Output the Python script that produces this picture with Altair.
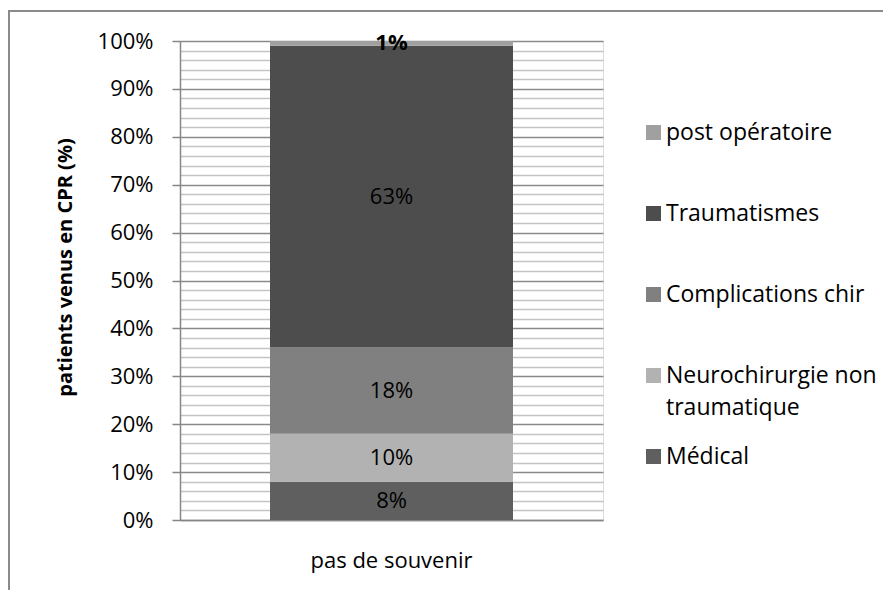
import altair as alt
import pandas as pd

# ---- data ----
categories = ["Médical", "Neurochirurgie non traumatique", "Complications chir",
              "Traumatismes", "post opératoire"]
values = [8, 10, 18, 63, 1]
stack_order = [0, 1, 2, 3, 4]
group_label = "pas de souvenir"
legend_order = ["post opératoire", "Traumatismes", "Complications chir",
                "Neurochirurgie non traumatique", "Médical"]
legend_colors = ["#a0a0a0", "#4d4d4d", "#808080", "#b2b2b2", "#5f5f5f"]
y_ticks = list(range(0, 101, 2))
y_title = "patients venus en CPR (%)"

df = pd.DataFrame({
    "groupe": [group_label] * len(categories),
    "cause": categories,
    "pct": values,
    "ordre": stack_order,
})
df["label"] = df["pct"].astype(str) + "%"

FONT = "Open Sans"
MAJOR = "datum.value % 10 === 0"

y_axis = alt.Axis(
    values=y_ticks,
    title=y_title,
    titleFont=FONT, titleFontSize=20, titleFontWeight="bold", titleColor="#000000",
    titleAngle=270, titleAlign="center", titleBaseline="bottom",
    titleX=-105, titleY=226,
    labelExpr=f"{MAJOR} ? datum.value + '%' : ''",
    labelFont=FONT, labelFontSize=22, labelColor="#000000", labelPadding=19,
    labelOverlap=False,
    tickSize=8, tickColor="#868686", tickWidth=1.5,
    tickOpacity={"condition": {"test": MAJOR, "value": 1}, "value": 0},
    grid=True,
    gridColor={"condition": {"test": MAJOR, "value": "#8a8a8a"}, "value": "#c4c4c4"},
    gridWidth=1.5,
    domainColor="#868686", domainWidth=1.5,
)

x_enc = alt.X(
    "groupe:N", title=None,
    scale=alt.Scale(paddingInner=0, paddingOuter=0),
    axis=alt.Axis(labelAngle=0, ticks=False, grid=False, domainColor="#868686",
                  domainWidth=1.5, labelFont=FONT, labelFontSize=22,
                  labelColor="#000000", labelPadding=30),
)

y_scale = alt.Scale(domain=[0, 100], nice=False)

legend = alt.Legend(
    title=None, orient="none", legendX=462, legendY=80,
    symbolType="square", symbolSize=225, symbolStrokeWidth=0,
    labelFont=FONT, labelFontSize=23, labelColor="#000000",
    labelLimit=400, labelOffset=1, labelBaseline="middle",
    rowPadding=25,
    labelExpr="datum.label == 'Neurochirurgie non traumatique' ? "
              "['Neurochirurgie non', 'traumatique'] : [datum.label, '']",
)

frame = alt.Chart(pd.DataFrame({"f": [0]})).mark_rect(
    fillOpacity=0, stroke="#8a8a8a", strokeWidth=2
).encode(x=alt.value(-171), x2=alt.value(760), y=alt.value(-30), y2=alt.value(700))

bars = alt.Chart(df).mark_bar(size=243).encode(
    x=x_enc,
    y=alt.Y("pct:Q", stack="zero", scale=y_scale, axis=y_axis),
    color=alt.Color("cause:N",
                    scale=alt.Scale(domain=legend_order, range=legend_colors),
                    legend=legend),
    order=alt.Order("ordre:Q", sort="ascending"),
)

stacked = alt.Chart(df).transform_stack(
    stack="pct", groupby=["groupe"], as_=["y0", "y1"],
    sort=[alt.SortField("ordre", "ascending")],
).transform_calculate(mid="(datum.y0 + datum.y1) / 2")

labels_normal = stacked.transform_filter("datum.pct > 2").mark_text(
    font=FONT, fontSize=22, color="#000000"
).encode(x=x_enc, y=alt.Y("mid:Q", scale=y_scale, axis=y_axis), text="label:N")

labels_bold = stacked.transform_filter("datum.pct <= 2").mark_text(
    font=FONT, fontSize=22, fontWeight="bold", color="#000000"
).encode(x=x_enc, y=alt.Y("mid:Q", scale=y_scale, axis=y_axis), text="label:N")

chart = alt.layer(frame, bars, labels_normal, labels_bold).properties(
    width=423, height=479,
    padding={"left": 172, "top": 33, "right": 280, "bottom": 70},
    autosize=alt.AutoSizeParams(type="none"),
    background="#ffffff",
).configure_view(stroke=None).configure(
    style={"guide-label": {"lineHeight": 32}}
)

chart.save("out.html", embed_options={"renderer": "svg", "actions": False})
